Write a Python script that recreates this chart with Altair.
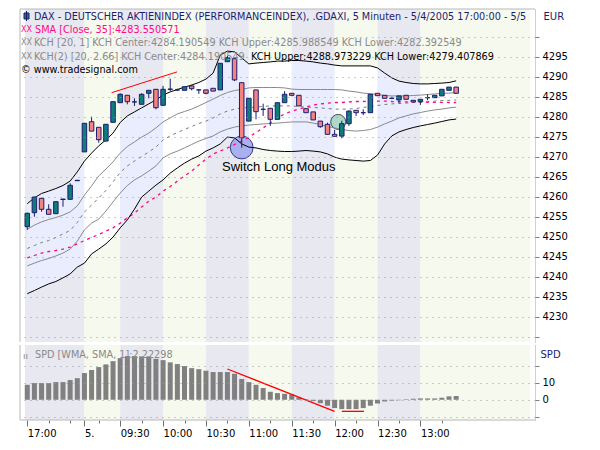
import altair as alt
import pandas as pd
import numpy as np

# ---------------- data ----------------
# bar index 0 = 5/4 17:00, 5-minute bars
tick_idx = [0, 3, 6, 8, 10, 13, 16, 19, 22, 25, 28, 31, 34, 37, 40, 43, 46, 49, 52, 55, 58]
tick_labels = {0: "17:00", 8: "5.", 13: "09:30", 19: "10:00", 25: "10:30", 31: "11:00",
               37: "11:30", 43: "12:00", 49: "12:30", 55: "13:00"}
session_starts = [8, 13, 19, 25, 31, 37, 43, 49, 55]

open_ = [4252.5, 4256.0, 4259.6, 4256.85, 4255.75, 4259.3, 4259.35, 4264.0, 4271.2, 4278.75,
         4277.35, 4273.9, 4278.6, 4283.5, 4285.35, 4283.7, 4283.1, 4285.85, 4286.85, 4282.85,
         4286.85, 4286.7, 4286.6, 4287.7, 4286.7, 4286.7, 4287.1, 4286.7, 4293.75, 4294.5,
         4288.5, 4278.9, 4286.7, 4281.85, 4282.1, 4279.35, 4283.5, 4285.85, 4285.35, 4282.0,
         4281.2, 4278.9, 4278.1, 4275.6, 4275.15, 4278.25, 4281.6, 4281.0, 4281.0, 4285.85,
         4285.35, 4284.6, 4284.2, 4285.35, 4284.1, 4283.75, 4284.75, 4284.75, 4285.2, 4286.6, 4287.4]
high = [4256.0, 4260.0, 4259.7, 4258.1, 4258.8, 4259.5, 4263.35, 4264.2, 4278.4, 4280.0,
        4277.4, 4278.1, 4283.75, 4285.85, 4285.4, 4284.6, 4285.85, 4286.6, 4286.9, 4287.7,
        4289.5, 4287.0, 4287.5, 4288.0, 4286.8, 4286.7, 4287.1, 4293.35, 4295.2, 4294.5,
        4288.5, 4284.6, 4286.7, 4283.25, 4282.1, 4283.5, 4286.4, 4285.85, 4285.35, 4282.0,
        4281.2, 4278.9, 4278.5, 4276.7, 4279.0, 4281.6, 4281.6, 4281.85, 4285.6, 4285.85,
        4285.35, 4285.0, 4285.2, 4285.35, 4284.1, 4284.35, 4285.6, 4285.35, 4286.85, 4287.4, 4287.4]
low = [4251.7, 4255.0, 4256.25, 4255.6, 4255.7, 4257.5, 4259.3, 4264.0, 4271.2, 4276.4,
       4273.5, 4273.9, 4278.6, 4283.5, 4283.1, 4282.7, 4283.1, 4284.6, 4281.85, 4282.85,
       4286.4, 4286.4, 4286.6, 4286.6, 4285.7, 4285.6, 4286.4, 4286.7, 4293.75, 4288.9,
       4272.25, 4278.9, 4279.35, 4280.2, 4277.7, 4279.35, 4283.5, 4285.1, 4282.7, 4281.0,
       4279.2, 4277.25, 4275.6, 4275.1, 4274.6, 4277.7, 4280.2, 4280.4, 4281.0, 4285.25,
       4284.6, 4284.4, 4283.35, 4284.35, 4283.7, 4282.95, 4284.1, 4284.75, 4285.2, 4286.6, 4285.85]
close = [4255.85, 4259.9, 4256.85, 4255.6, 4258.75, 4259.4, 4262.85, 4264.1, 4278.35, 4276.4,
         4274.25, 4278.1, 4283.75, 4285.6, 4283.75, 4283.7, 4285.6, 4286.6, 4282.25, 4286.85,
         4286.9, 4286.7, 4287.5, 4287.0, 4286.7, 4285.85, 4286.4, 4293.35, 4294.75, 4289.2,
         4274.75, 4284.6, 4281.25, 4281.85, 4279.35, 4283.5, 4285.6, 4285.35, 4282.7, 4281.0,
         4279.2, 4277.5, 4275.6, 4275.1, 4278.25, 4281.4, 4281.0, 4281.0, 4285.6, 4285.25,
         4284.6, 4284.6, 4285.2, 4284.35, 4283.7, 4284.35, 4284.75, 4285.35, 4286.85, 4287.4, 4285.85]

kch2_upper = [4258.25, 4259.7, 4260.8, 4261.4, 4262.05, 4262.8, 4263.9, 4266.2, 4268.9, 4270.9,
              4272.7, 4274.2, 4275.9, 4278.55, 4280.2, 4281.2, 4282.2, 4283.2, 4284.2, 4285.4,
              4286.2, 4286.8, 4287.4, 4287.9, 4288.55, 4289.4, 4290.9, 4295.4, 4296.4, 4296.2,
              4294.7, 4293.2, 4293.4, 4293.55, 4293.7, 4293.9, 4293.9, 4294.05, 4294.05, 4293.9,
              4293.7, 4293.4, 4293.2, 4292.9, 4292.7, 4292.7, 4292.7, 4292.7, 4292.7, 4292.2,
              4290.9, 4289.7, 4288.9, 4288.55, 4288.3, 4288.2, 4288.2, 4288.3, 4288.4, 4288.55, 4288.97]
kch2_lower = [4235.75, 4236.55, 4237.4, 4238.2, 4238.8, 4239.7, 4240.7, 4242.4, 4243.4, 4245.7,
              4246.9, 4248.2, 4249.9, 4252.2, 4254.2, 4256.9, 4259.9, 4261.4, 4262.9, 4264.2,
              4265.9, 4267.2, 4268.4, 4269.4, 4270.2, 4271.4, 4272.2, 4273.2, 4274.9, 4274.7,
              4273.2, 4272.4, 4272.2, 4271.8, 4271.55, 4271.4, 4271.3, 4271.3, 4271.4, 4271.55,
              4271.4, 4271.2, 4270.7, 4269.9, 4269.4, 4269.2, 4269.05, 4268.9, 4269.05, 4270.4,
              4273.2, 4275.2, 4276.2, 4276.8, 4277.3, 4277.7, 4278.05, 4278.4, 4278.8, 4279.2, 4279.41]
kch_center = [4247.05, 4247.8, 4248.55, 4249.05, 4249.8, 4250.7, 4251.55, 4253.55, 4256.2, 4257.9,
              4259.7, 4261.55, 4263.7, 4266.05, 4267.7, 4268.9, 4270.05, 4271.2, 4272.4, 4274.2,
              4275.2, 4276.05, 4276.8, 4277.55, 4278.3, 4278.9, 4279.7, 4280.7, 4281.4, 4281.9,
              4282.2, 4282.3, 4282.4, 4282.55, 4282.7, 4282.7, 4282.7, 4282.7, 4282.55, 4282.4,
              4282.3, 4282.2, 4282.05, 4281.9, 4281.9, 4281.9, 4282.05, 4282.3, 4282.55, 4282.8,
              4283.05, 4283.2, 4283.3, 4283.4, 4283.55, 4283.7, 4283.8, 4283.9, 4284.05, 4284.1, 4284.19]
kch1_upper = [4251.85, 4252.9, 4253.7, 4254.3, 4254.8, 4255.4, 4256.2, 4257.7, 4260.4, 4262.7,
              4265.2, 4266.9, 4268.7, 4270.9, 4272.55, 4273.7, 4274.9, 4275.9, 4277.2, 4278.7,
              4279.7, 4280.7, 4281.3, 4281.9, 4282.7, 4283.55, 4284.4, 4285.3, 4286.05, 4286.55,
              4286.8, 4287.2, 4287.3, 4287.3, 4287.3, 4287.3, 4287.2, 4286.9, 4286.8, 4286.8,
              4286.8, 4286.8, 4286.8, 4286.8, 4286.7, 4286.4, 4286.2, 4285.9, 4285.75, 4285.55,
              4285.3, 4285.2, 4285.2, 4285.2, 4285.3, 4285.4, 4285.55, 4285.7, 4285.8, 4285.9, 4285.99]
kch1_lower = [4242.7, 4243.4, 4244.05, 4244.55, 4245.2, 4245.9, 4246.9, 4248.9, 4251.7, 4253.4,
              4254.4, 4256.4, 4258.7, 4260.9, 4262.8, 4264.2, 4265.2, 4266.4, 4267.7, 4269.7,
              4270.7, 4271.4, 4272.2, 4273.05, 4273.9, 4274.55, 4275.2, 4276.2, 4276.9, 4277.4,
              4277.7, 4277.9, 4278.05, 4278.2, 4278.3, 4278.4, 4278.55, 4278.7, 4278.7, 4278.7,
              4278.4, 4278.05, 4277.55, 4277.2, 4276.8, 4276.55, 4276.4, 4276.55, 4276.8, 4277.4,
              4278.2, 4278.9, 4279.7, 4280.2, 4280.7, 4281.05, 4281.4, 4281.7, 4281.9, 4282.2, 4282.39]
sma35 = [4244.7, 4245.3, 4245.9, 4246.3, 4246.55, 4246.9, 4247.4, 4248.2, 4249.05, 4249.8,
         4250.55, 4251.4, 4252.2, 4253.4, 4254.7, 4255.9, 4257.4, 4258.9, 4259.9, 4261.4,
         4262.55, 4263.9, 4265.2, 4266.4, 4267.9, 4269.4, 4270.7, 4271.4, 4272.2, 4273.05,
         4273.9, 4274.9, 4276.05, 4277.2, 4278.4, 4279.7, 4280.7, 4281.4, 4281.9, 4282.4,
         4282.9, 4283.2, 4283.4, 4283.55, 4283.55, 4283.7, 4283.8, 4283.8, 4283.9, 4283.9,
         4283.9, 4283.8, 4283.75, 4283.7, 4283.7, 4283.7, 4283.6, 4283.6, 4283.6, 4283.55, 4283.55]
spd = [8.8, 9.8, 9.8, 9.8, 10.4, 10.4, 11.6, 12.7, 15.7, 17.5,
       19.2, 20.8, 22.7, 24.5, 25.7, 25.7, 25.5, 25.5, 24.1, 23.3,
       22.0, 21.0, 19.8, 18.6, 18.0, 17.1, 16.3, 16.3, 16.3, 15.3,
       12.2, 10.4, 8.8, 6.9, 4.7, 3.9, 3.5, 3.1, 1.4, 0.3,
       -0.8, -2.0, -3.5, -4.9, -5.5, -5.5, -5.5, -4.9, -3.5, -2.2,
       -1.0, -0.5, -0.3, 0.3, 0.6, 0.8, 0.8, 0.8, 1.2, 2.0, 2.22]

# annotations (bar index, value)
trend_main = [(11.8, 4286.0), (20.95, 4291.2)]
trend_spd = [(28.0, 18.1), (43.0, -6.8)]
flat_spd = [(44.0, -6.8), (47.1, -6.8)]
switch_point = (30.0, 4272.3)
green_point = (43.5, 4278.7)
switch_text_pos = (27.25, 4267.4)

# ---------------- styling / layout ----------------
NAVY = "#1C1C72"
TEAL = "#0F7D7A"
SALMON = "#F4837D"
MAGENTA = "#FF0A84"
LGRAY = "#8A8A8A"
FONT = "DejaVu Sans"
LFS = 9.7
W, H1, H2 = 515, 333, 75
XMIN, XMAX = -0.3155, 70.33
Y1 = [4223.675, 4306.925]
Y2 = [-11.9, 32.2]

n = len(close)
df = pd.DataFrame({"i": range(n), "open": open_, "high": high, "low": low, "close": close,
                   "ou": kch2_upper, "ol": kch2_lower, "c": kch_center,
                   "iu": kch1_upper, "il": kch1_lower, "sma": sma35, "spd": spd})
df["dir"] = np.where(df["close"] >= df["open"], "up", "down")
df["zero"] = 0.0

edges_b = [XMIN] + session_starts + [XMAX]
bands = pd.DataFrame({"x0": edges_b[:-1], "x1": edges_b[1:],
                      "kind": ["session_a" if k % 2 == 0 else "session_b" for k in range(len(edges_b) - 1)]})
edges_c = [0] + session_starts + [n - 1]
rows = []
for k in range(len(edges_c) - 1):
    for j in range(edges_c[k], edges_c[k + 1] + 1):
        rows.append({"i": j, "ou": kch2_upper[j], "ol": kch2_lower[j], "seg": k,
                     "kind": "channel_a" if k % 2 == 0 else "channel_b"})
chan = pd.DataFrame(rows)

CS = alt.Scale(domain=["session_a", "session_b", "channel_a", "channel_b", "up", "down"],
               range=["#E8E8F0", "#F6F9EE", "#E9EDFD", "#FFFFFF", TEAL, SALMON])

xs = alt.Scale(domain=[XMIN, XMAX], nice=False, zero=False)
ys1 = alt.Scale(domain=Y1, nice=False, zero=False)
ys2 = alt.Scale(domain=Y2, nice=False, zero=False)

YA1 = alt.Axis(orient="right", values=list(range(4225, 4301, 5)),
               labelExpr="(datum.value < 4230 || datum.value > 4295) ? '' : datum.label",
               format="d", grid=True, gridDash=[1, 5], gridColor="#9A9A9A", tickSize=4,
               tickColor="#808080", domainColor="#A0A0A0", domainDash=[1, 1],
               labelFont=FONT, labelFontSize=10, labelColor="#000000", labelPadding=3,
               title="EUR", titleAngle=0, titleX=8, titleY=7, titleAlign="left",
               titleBaseline="middle", titleFont=FONT, titleFontSize=10,
               titleFontWeight="normal", titleColor=NAVY, zindex=1)
YA2 = alt.Axis(orient="right", values=[-10, 0, 10, 20],
               labelExpr="(datum.value == 0 || datum.value == 10) ? datum.label : ''",
               grid=True, gridDash=[1, 5], gridColor="#9A9A9A", tickSize=4,
               tickColor="#808080", domainColor="#A0A0A0", domainDash=[1, 1],
               labelFont=FONT, labelFontSize=10, labelColor="#000000", labelPadding=3,
               title="SPD", titleAngle=0, titleX=5, titleY=9, titleAlign="left",
               titleBaseline="middle", titleFont=FONT, titleFontSize=10,
               titleFontWeight="normal", titleColor=NAVY, zindex=1)
lab_expr = "".join(f"datum.value == {k} ? '{v}' : " for k, v in tick_labels.items()) + "''"
major_test = "indexof([" + ",".join(str(k) for k in tick_labels) + "], datum.value) >= 0"
XA = alt.Axis(values=tick_idx, labelExpr=lab_expr, labelAlign="left", labelPadding=2,
              labelOverlap=False, labelFlush=False, domain=False, grid=False,
              tickColor="#707070",
              tickSize={"condition": {"test": major_test, "value": 6}, "value": 3},
              labelFont=FONT, labelFontSize=10, labelColor="#000000", title=None)

dummy = pd.DataFrame({"a": [0]})


def X(f, axis=None):
    return alt.X(f, type="quantitative", scale=xs, axis=axis)


def Ym(f):
    return alt.Y(f, type="quantitative", scale=ys1, axis=YA1)


def Yl(f):
    return alt.Y(f, type="quantitative", scale=ys2, axis=YA2)


# ---------------- main panel ----------------
bg = alt.Chart(bands).mark_rect().encode(
    x=X("x0"), x2="x1", y=alt.value(0), y2=alt.value(H1),
    color=alt.Color("kind:N", scale=CS, legend=None))
channel = alt.Chart(chan).mark_area(interpolate="linear").encode(
    x=X("i"), y=Ym("ou"), y2="ol", detail="seg:N",
    color=alt.Color("kind:N", scale=CS, legend=None))
circ1 = alt.Chart(pd.DataFrame({"x": [switch_point[0]], "y": [switch_point[1]]})).mark_point(
    shape="circle", size=520, filled=True, fill="#A3A8EE", fillOpacity=0.9,
    stroke="#3A3A8A", strokeWidth=1).encode(x=X("x"), y=Ym("y"))
circ2 = alt.Chart(pd.DataFrame({"x": [green_point[0]], "y": [green_point[1]]})).mark_point(
    shape="circle", size=225, filled=True, fill="#A6D4C6", fillOpacity=0.9,
    stroke="#3E4E4E", strokeWidth=1).encode(x=X("x"), y=Ym("y"))

base = alt.Chart(df)
l_iu = base.mark_line(color=LGRAY, strokeWidth=1).encode(x=X("i"), y=Ym("iu"))
l_il = base.mark_line(color=LGRAY, strokeWidth=1).encode(x=X("i"), y=Ym("il"))
l_c = base.mark_line(color="#7A7A7A", strokeWidth=1, strokeDash=[3, 4]).encode(x=X("i"), y=Ym("c"))
l_sma = base.mark_line(color=MAGENTA, strokeWidth=1.3, strokeDash=[3, 4]).encode(x=X("i"), y=Ym("sma"))
l_ou = base.mark_line(color="#000000", strokeWidth=1).encode(x=X("i"), y=Ym("ou"))
l_ol = base.mark_line(color="#000000", strokeWidth=1).encode(x=X("i"), y=Ym("ol"))

tm = pd.DataFrame({"x": [trend_main[0][0]], "x2": [trend_main[1][0]],
                   "y": [trend_main[0][1]], "y2": [trend_main[1][1]]})
red_main = alt.Chart(tm).mark_rule(color="#FF0000", strokeWidth=1).encode(
    x=X("x"), x2="x2", y=Ym("y"), y2="y2")

wick = base.mark_rule(color=NAVY, strokeWidth=1).encode(x=X("i"), y=Ym("low"), y2="high")
body = base.mark_bar(size=4.5, stroke=NAVY, strokeWidth=1).encode(
    x=X("i"), y=Ym("open"), y2="close",
    color=alt.Color("dir:N", scale=CS, legend=None))

stx = pd.DataFrame({"x": [switch_text_pos[0]], "y": [switch_text_pos[1]]})
switch_txt = alt.Chart(stx).mark_text(text="Switch Long Modus", align="left", baseline="middle",
                                      font="Liberation Sans", fontSize=13, color="#000000").encode(
    x=X("x"), y=Ym("y"))


def txt(s, x, y, color, size=LFS):
    return alt.Chart(dummy).mark_text(text=s, align="left", baseline="middle", font=FONT,
                                      fontSize=size, color=color).encode(
        x=alt.value(x), y=alt.value(y))


icon_body = alt.Chart(dummy).mark_rect(fill=TEAL, stroke=NAVY, strokeWidth=1).encode(
    x=alt.value(4), x2=alt.value(9), y=alt.value(4), y2=alt.value(10))
icon_wick = alt.Chart(dummy).mark_rule(color=NAVY).encode(
    x=alt.value(6.5), y=alt.value(2), y2=alt.value(12))

legend_texts = [
    txt("DAX  - DEUTSCHER AKTIENINDEX (PERFORMANCEINDEX), .GDAXI, 5 Minuten - 5/4/2005 17:00:00 - 5/5",
        14, 7.7, NAVY),
    txt("XX", 1, 21, MAGENTA, size=8),
    txt("SMA [Close, 35]:4283.550571", 15, 21, MAGENTA),
    txt("XX", 1, 34.3, LGRAY, size=8),
    txt("KCH [20, 1] KCH Center:4284.190549 KCH Upper:4285.988549 KCH Lower:4282.392549", 14, 34.3, LGRAY),
    txt("XX", 1, 47.6, LGRAY, size=8),
    txt("KCH(2) [20, 2.66] KCH Center:4284.190549", 14, 47.6, LGRAY),
    txt("KCH Upper:4288.973229 KCH Lower:4279.407869", 231, 47.6, "#000000"),
    txt("\u00a9 www.tradesignal.com", 1, 60.9, "#000000"),
]

border_main = [
    alt.Chart(dummy).mark_rule(color="#B8B8B8").encode(x=alt.value(0), y=alt.value(0), y2=alt.value(H1)),
    alt.Chart(dummy).mark_rule(color="#B8B8B8").encode(x=alt.value(0), x2=alt.value(W), y=alt.value(0)),
]

main = alt.layer(bg, channel, circ1, circ2, l_iu, l_il, l_c, l_sma, l_ou, l_ol, red_main,
                 wick, body, switch_txt, icon_body, icon_wick, *legend_texts, *border_main
                 ).properties(width=W, height=H1)

# ---------------- SPD panel ----------------
XAX = XA
bg2 = alt.Chart(bands).mark_rect().encode(
    x=X("x0", XAX), x2="x1", y=alt.value(0), y2=alt.value(H2),
    color=alt.Color("kind:N", scale=CS, legend=None))
bars = alt.Chart(df).mark_bar(size=5, color="#808080").encode(
    x=X("i", XAX), y=Yl("spd"), y2="zero")
ts = pd.DataFrame({"x": [trend_spd[0][0], flat_spd[0][0]], "x2": [trend_spd[1][0], flat_spd[1][0]],
                   "y": [trend_spd[0][1], flat_spd[0][1]], "y2": [trend_spd[1][1], flat_spd[1][1]]})
red_spd = alt.Chart(ts).mark_rule(color="#FF0000", strokeWidth=1.3).encode(
    x=X("x", XAX), x2="x2", y=Yl("y"), y2="y2")
spd_txt = txt("SPD [WMA, SMA, 1]:2.22298", 15, 9.5, LGRAY)
spd_icon = txt("\u0131\u0131", 3, 10.5, LGRAY, size=9)
border_low = [
    alt.Chart(dummy).mark_rule(color="#B8B8B8").encode(x=alt.value(0), y=alt.value(0), y2=alt.value(H2)),
    alt.Chart(dummy).mark_rule(color="#B8B8B8").encode(x=alt.value(0), x2=alt.value(W), y=alt.value(H2)),
]
lower = alt.layer(bg2, bars, red_spd, spd_txt, spd_icon, *border_low).properties(width=W, height=H2)

chart = alt.vconcat(main, lower, spacing=1).properties(
    padding={"left": 11, "top": 0, "right": 2, "bottom": 2}, background="#FFFFFF"
).configure_view(strokeWidth=0)

chart.save("out.html", embed_options={"renderer": "svg", "actions": False})
